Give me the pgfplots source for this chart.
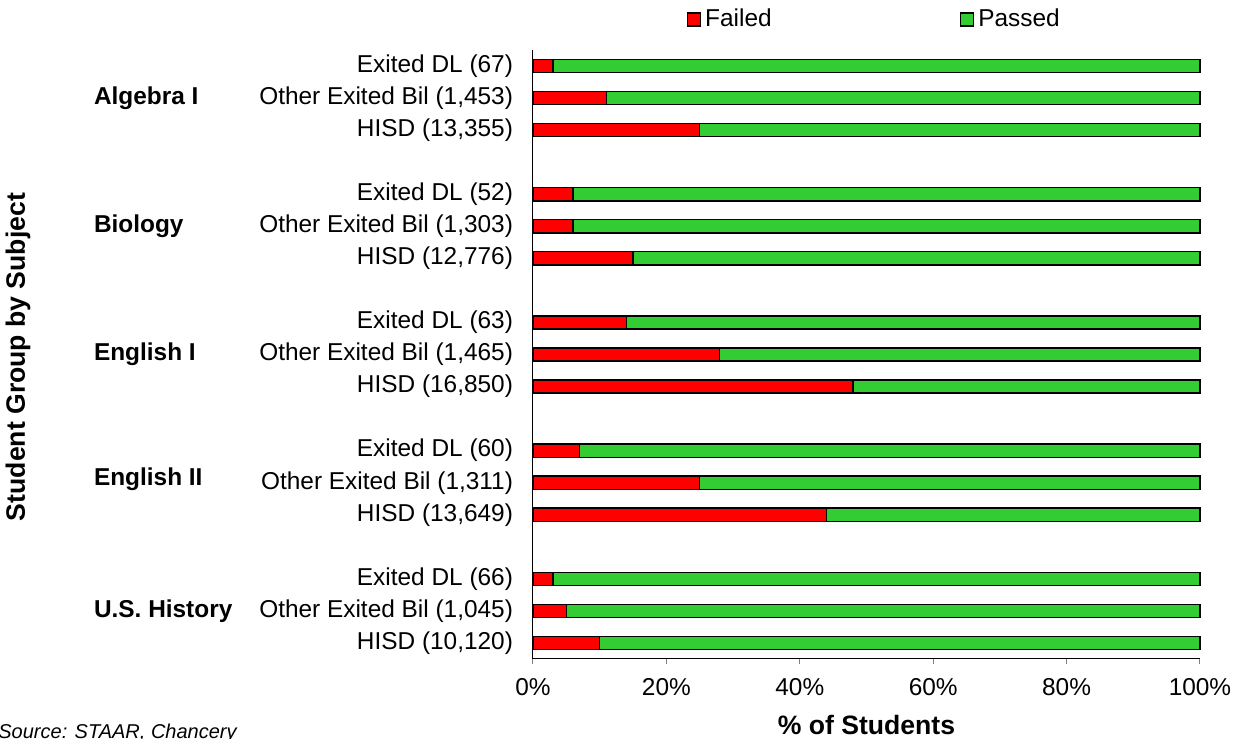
\documentclass[border=0pt]{standalone}
\usepackage{fontspec}
\setmainfont{Liberation Sans}
\usepackage{pgfplots}
\usepackage{pgfplotstable}
\pgfplotsset{compat=1.18}

\definecolor{failred}{RGB}{255,0,0}
\definecolor{passgreen}{RGB}{51,204,51}

% pos: 18 = top row (Algebra I, Exited DL), 0 = bottom row
\pgfplotstableread{
pos failed passed
0   10  90
1   5   95
2   3   97
4   44  56
5   25  75
6   7   93
8   48  52
9   28  72
10  14  86
12  15  85
13  6   94
14  6   94
16  25  75
17  11  89
18  3   97
}\staar

\begin{document}
\begin{tikzpicture}[font=\fontsize{12.2}{14.6}\selectfont]
\useasboundingbox (-266.5pt,-40pt) rectangle (352.5pt,329.5pt);
\begin{axis}[
    at={(0,0)}, anchor=south west,
    scale only axis,
    width=333.5pt, height=304.5pt,
    xbar stacked,
    bar width=0.41,
    xmin=0, xmax=100,
    ymin=-0.5, ymax=18.5,
    enlargelimits=false,
    axis x line*=bottom,
    axis y line*=left,
    axis line style={line width=0.5pt},
    xtick={0,20,40,60,80,100},
    xticklabel={\pgfmathprintnumber{\tick}\%},
    /pgf/number format/assume math mode=true,
    tick align=outside,
    major tick length=2.5pt,
    xtick style={line width=0.5pt},
    xticklabel style={yshift=-3.5pt},
    ytick={0,1,2,4,5,6,8,9,10,12,13,14,16,17,18},
    yticklabels={
        {HISD (10,120)},{Other Exited Bil (1,045)},{Exited DL (66)},
        {HISD (13,649)},{Other Exited Bil (1,311)},{Exited DL (60)},
        {HISD (16,850)},{Other Exited Bil (1,465)},{Exited DL (63)},
        {HISD (12,776)},{Other Exited Bil (1,303)},{Exited DL (52)},
        {HISD (13,355)},{Other Exited Bil (1,453)},{Exited DL (67)}},
    ytick style={draw=none},
    yticklabel style={xshift=-4pt},
    xlabel={\% of Students},
    xlabel style={at={(rel axis cs:0.5,0)}, anchor=center, yshift=-33pt,
        font=\fontsize{13.3}{16}\selectfont\bfseries},
    legend columns=2,
    legend style={draw=none, at={(0.513,1.05)}, anchor=center,
        font=\fontsize{12.2}{14.6}\selectfont,
        /tikz/every even column/.append style={column sep=92pt}},
    legend image code/.code={\draw[#1,line width=0.7pt] (0pt,-3.3pt) rectangle (6.6pt,3.3pt);},
    clip=false,
]
\addplot[fill=failred, draw=black, line width=0.7pt] table[x=failed, y=pos] {\staar};
\addplot[fill=passgreen, draw=black, line width=0.7pt] table[x=passed, y=pos] {\staar};
\legend{Failed, Passed}

\node[anchor=west, font=\fontsize{12.2}{14.6}\selectfont\bfseries] at ([xshift=-223pt]axis cs:0,17) {Algebra I};
\node[anchor=west, font=\fontsize{12.2}{14.6}\selectfont\bfseries] at ([xshift=-223pt]axis cs:0,13) {Biology};
\node[anchor=west, font=\fontsize{12.2}{14.6}\selectfont\bfseries] at ([xshift=-223pt]axis cs:0,9) {English I};
\node[anchor=west, font=\fontsize{12.2}{14.6}\selectfont\bfseries] at ([xshift=-223pt]axis cs:0,5.1) {English II};
\node[anchor=west, font=\fontsize{12.2}{14.6}\selectfont\bfseries] at ([xshift=-223pt]axis cs:0,1) {U.S. History};
\end{axis}
\node[rotate=90, font=\fontsize{13.3}{16}\selectfont\bfseries] at (-257.5pt,151pt) {Student Group by Subject};
\node[anchor=base west, inner sep=0pt, font=\fontsize{10}{12}\selectfont\itshape] at (-267.5pt,-40pt) {Source: STAAR, Chancery};
\end{tikzpicture}
\end{document}
